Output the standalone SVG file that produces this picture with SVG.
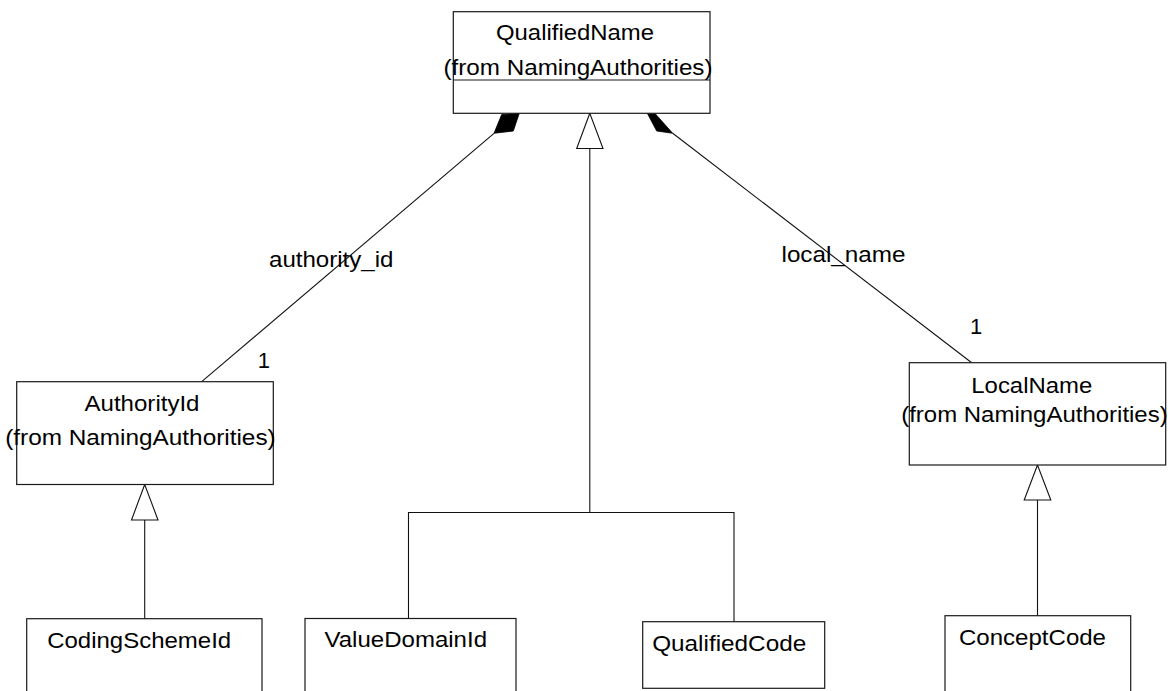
<svg xmlns="http://www.w3.org/2000/svg" width="1173" height="691" viewBox="0 0 1173 691">
  <style>
    .box { fill: #ffffff; stroke: #1a1a1a; stroke-width: 1.2; }
    .sep { stroke: #1a1a1a; stroke-width: 1.2; }
    .edge { fill: none; stroke: #111111; stroke-width: 1.1; }
    .gen { fill: #ffffff; stroke: #111111; stroke-width: 1.1; }
    .comp { fill: #000000; stroke: #000000; stroke-width: 0.8; }
    text { font-family: "Liberation Sans", Arial, Helvetica, sans-serif; font-size: 22px; fill: #000000; }
  </style>

  <rect width="1173" height="691" fill="#ffffff"/>

  <!-- connectors -->
  <g id="connectors">
    <!-- composition QualifiedName -> AuthorityId -->
    <line class="edge" x1="494" y1="133.3" x2="201.7" y2="381.7"/>
    <polygon class="comp" points="519.3,113.3 501.7,114.5 494,133.3 513.3,131"/>
    <!-- composition QualifiedName -> LocalName -->
    <line class="edge" x1="672.7" y1="133.3" x2="971.7" y2="362.7"/>
    <polygon class="comp" points="647.3,113.3 655.5,114 672.7,133.3 656.7,131"/>

    <!-- generalization tree into QualifiedName -->
    <polyline class="edge" points="408.5,618.5 408.5,512.5 734,512.5 734,621.7"/>
    <line class="edge" x1="589.8" y1="148.5" x2="589.8" y2="512.5"/>
    <polygon class="gen" points="589.8,113.3 576.7,148.5 603,148.5"/>

    <!-- CodingSchemeId -> AuthorityId -->
    <line class="edge" x1="144.7" y1="520" x2="144.7" y2="618.7"/>
    <polygon class="gen" points="144.7,484.5 131.5,520 158,520"/>

    <!-- ConceptCode -> LocalName -->
    <line class="edge" x1="1037.5" y1="500" x2="1037.5" y2="615.7"/>
    <polygon class="gen" points="1037.5,465 1024.2,500 1050.8,500"/>

    <!-- association labels -->
    <text x="269" y="266.7" textLength="124.5" lengthAdjust="spacingAndGlyphs">authority_id</text>
    <text x="781.5" y="262.3" textLength="124" lengthAdjust="spacingAndGlyphs">local_name</text>
    <text x="257.8" y="367.7">1</text>
    <text x="970" y="334">1</text>
  </g>

  <g id="QualifiedName">
    <rect class="box" x="453.3" y="11.7" width="256.7" height="101.6"/>
    <line class="sep" x1="453.3" y1="80" x2="710" y2="80"/>
    <text x="496" y="40" textLength="158" lengthAdjust="spacingAndGlyphs">QualifiedName</text>
    <text x="443.5" y="74.5" textLength="269" lengthAdjust="spacingAndGlyphs">(from NamingAuthorities)</text>
  </g>

  <g id="AuthorityId">
    <rect class="box" x="16.7" y="381.7" width="256.6" height="102.8"/>
    <text x="84.5" y="411" textLength="115" lengthAdjust="spacingAndGlyphs">AuthorityId</text>
    <text x="5.2" y="445" textLength="270.5" lengthAdjust="spacingAndGlyphs">(from NamingAuthorities)</text>
  </g>

  <g id="LocalName">
    <rect class="box" x="909.3" y="362.7" width="256.4" height="102.3"/>
    <text x="971.3" y="392.7" textLength="121" lengthAdjust="spacingAndGlyphs">LocalName</text>
    <text x="901.2" y="422.3" textLength="266.5" lengthAdjust="spacingAndGlyphs">(from NamingAuthorities)</text>
  </g>

  <g id="CodingSchemeId">
    <rect class="box" x="26.7" y="618.7" width="235.3" height="90"/>
    <text x="47.2" y="648.3" textLength="184" lengthAdjust="spacingAndGlyphs">CodingSchemeId</text>
  </g>

  <g id="ValueDomainId">
    <rect class="box" x="305" y="618.5" width="211" height="90"/>
    <text x="324.5" y="646.7" textLength="162.5" lengthAdjust="spacingAndGlyphs">ValueDomainId</text>
  </g>

  <g id="QualifiedCode">
    <rect class="box" x="642.7" y="621.7" width="182" height="66.6"/>
    <text x="652.2" y="650.7" textLength="154" lengthAdjust="spacingAndGlyphs">QualifiedCode</text>
  </g>

  <g id="ConceptCode">
    <rect class="box" x="945" y="615.7" width="185.7" height="90"/>
    <text x="959" y="645" textLength="147" lengthAdjust="spacingAndGlyphs">ConceptCode</text>
  </g>
</svg>
